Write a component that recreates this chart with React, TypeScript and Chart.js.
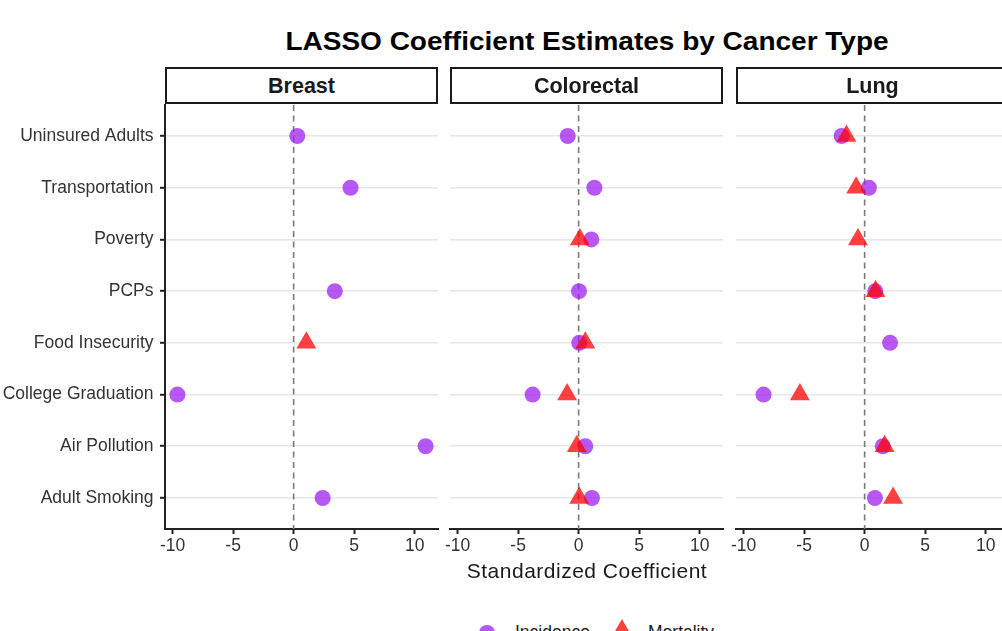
import React, { useEffect, useRef } from 'react';
import { Chart, registerables } from 'chart.js';

Chart.register(...registerables);

const categories = [
  'Uninsured Adults',
  'Transportation',
  'Poverty',
  'PCPs',
  'Food Insecurity',
  'College Graduation',
  'Air Pollution',
  'Adult Smoking',
];
const panelNames = ['Breast', 'Colorectal', 'Lung'];
const xTickValues = [-10, -5, 0, 5, 10];

// null = coefficient shrunk to zero (not shown)
const breastIncidence = [0.3, 4.7, null, 3.4, null, -9.6, 10.9, 2.4];
const breastMortality = [null, null, null, null, 1.05, null, null, null];
const colorectalIncidence = [-0.9, 1.3, 1.05, 0.03, 0.05, -3.8, 0.55, 1.1];
const colorectalMortality = [null, null, 0.1, null, 0.55, -0.95, -0.15, 0.05];
const lungIncidence = [-1.9, 0.35, null, 0.88, 2.1, -8.35, 1.5, 0.85];
const lungMortality = [-1.5, -0.7, -0.55, 0.9, null, -5.35, 1.65, 2.35];

const incidenceByPanel = [breastIncidence, colorectalIncidence, lungIncidence];
const mortalityByPanel = [breastMortality, colorectalMortality, lungMortality];

const FONT = '"Liberation Sans", Arial, Helvetica, sans-serif';
const PURPLE = 'rgba(160,32,240,0.75)';
const RED = 'rgba(255,0,0,0.75)';

const allValues = [...incidenceByPanel, ...mortalityByPanel]
  .flat()
  .filter((v) => v !== null) as number[];
const dataMin = Math.min(...allValues);
const dataMax = Math.max(...allValues);
const xPad = 0.05 * (dataMax - dataMin);

const toPoints = (vals: (number | null)[]) =>
  vals
    .map((v, i) => (v === null ? null : { x: v, y: i + 1 }))
    .filter((p) => p !== null);

// panel geometry (plot areas)
const PANEL_LEFT = [165, 450, 736];
const PANEL_W = 273;
const PLOT_TOP = 105;
const PLOT_H = 424;
const X_AXIS_H = 50;
const PAD = 24;

const zeroLinePlugin = {
  id: 'zeroLine',
  beforeDatasetsDraw(chart: any) {
    const { ctx, chartArea, scales } = chart;
    const x = scales.x.getPixelForValue(0);
    ctx.save();
    ctx.strokeStyle = '#7a7a7a';
    ctx.lineWidth = 1.6;
    ctx.setLineDash([6, 4.5]);
    ctx.beginPath();
    ctx.moveTo(x, chartArea.top);
    ctx.lineTo(x, chartArea.bottom);
    ctx.stroke();
    ctx.restore();
  },
};

function Panel({ index }: { index: number }) {
  const ref = useRef<HTMLCanvasElement | null>(null);
  const first = index === 0;
  const canvasLeft = first ? 0 : PANEL_LEFT[index] - PAD;
  const canvasWidth = first ? PANEL_LEFT[0] + PANEL_W + PAD : PANEL_W + 2 * PAD;
  const canvasTop = PLOT_TOP - PAD;
  const canvasHeight = PAD + PLOT_H + X_AXIS_H;

  useEffect(() => {
    if (!ref.current) return;
    const chart = new Chart(ref.current, {
      type: 'scatter',
      data: {
        datasets: [
          {
            label: 'Mortality',
            data: toPoints(mortalityByPanel[index]) as any,
            pointStyle: 'triangle',
            pointRadius: 11.5,
            pointHoverRadius: 11.5,
            backgroundColor: RED,
            borderWidth: 0,
            order: 1,
          },
          {
            label: 'Incidence',
            data: toPoints(incidenceByPanel[index]) as any,
            pointStyle: 'circle',
            pointRadius: 8,
            pointHoverRadius: 8,
            backgroundColor: PURPLE,
            borderWidth: 0,
            order: 2,
          },
        ],
      },
      options: {
        animation: false,
        responsive: false,
        maintainAspectRatio: false,
        devicePixelRatio: 1,
        events: [],
        layout: {
          padding: {
            top: PAD,
            left: first ? 0 : PAD,
            right: PAD,
            bottom: 0,
          },
        },
        plugins: {
          legend: { display: false },
          tooltip: { enabled: false },
          title: { display: false },
        },
        scales: {
          x: {
            type: 'linear',
            min: dataMin - xPad,
            max: dataMax + xPad,
            afterBuildTicks: (s: any) => {
              s.ticks = xTickValues.map((v) => ({ value: v }));
            },
            afterFit: (s: any) => {
              s.height = X_AXIS_H;
            },
            ticks: {
              autoSkip: false,
              maxRotation: 0,
              padding: 2,
              color: '#333333',
              font: { family: FONT, size: 17.5 },
            },
            grid: {
              drawOnChartArea: false,
              drawTicks: true,
              tickLength: 5,
              tickColor: '#222222',
              tickWidth: 2,
            },
            border: { display: true, color: '#222222', width: 2 },
          },
          y: {
            type: 'linear',
            min: 0.4,
            max: 8.6,
            reverse: true,
            afterBuildTicks: (s: any) => {
              s.ticks = categories.map((_, i) => ({ value: i + 1 }));
            },
            afterFit: (s: any) => {
              s.width = first ? PANEL_LEFT[0] : 0;
            },
            ticks: {
              display: first,
              autoSkip: false,
              padding: 6.5,
              color: '#333333',
              font: { family: FONT, size: 17.5 },
              callback: (v: any) => categories[Math.round(v) - 1],
            },
            grid: {
              color: '#e6e6e6',
              lineWidth: 1.6,
              drawTicks: first,
              tickLength: 5,
              tickColor: '#222222',
              tickWidth: 2,
            },
            border: { display: first, color: '#222222', width: 2 },
          },
        },
      },
      plugins: [zeroLinePlugin],
    });
    return () => chart.destroy();
  }, [index]);

  return (
    <canvas
      ref={ref}
      width={canvasWidth}
      height={canvasHeight}
      style={{
        position: 'absolute',
        left: canvasLeft,
        top: canvasTop,
        width: canvasWidth,
        height: canvasHeight,
      }}
    />
  );
}

export default function App() {
  const triR = 11.5;
  const triW = triR * Math.sqrt(3);
  const triH = triR * 1.5;
  return (
    <div
      style={{
        position: 'fixed',
        left: 0,
        top: 0,
        width: 1002,
        height: 631,
        overflow: 'hidden',
        background: '#ffffff',
        fontFamily: FONT,
      }}
    >
      <div
        style={{
          position: 'absolute',
          left: 587,
          top: 29,
          fontSize: 25,
          lineHeight: '25px',
          fontWeight: 'bold',
          whiteSpace: 'nowrap',
          color: '#000',
          transform: 'translateX(-50%) scaleX(1.12)',
        }}
      >
        LASSO Coefficient Estimates by Cancer Type
      </div>

      {panelNames.map((name, i) => (
        <Panel key={name} index={i} />
      ))}

      {panelNames.map((name, i) => (
        <div
          key={name}
          style={{
            position: 'absolute',
            left: PANEL_LEFT[i],
            top: 67,
            width: PANEL_W,
            height: 37,
            boxSizing: 'border-box',
            border: '2px solid #1a1a1a',
            display: 'flex',
            alignItems: 'center',
            justifyContent: 'center',
            paddingTop: 2,
            fontSize: 21.5,
            fontWeight: 'bold',
            color: '#1a1a1a',
            background: '#fff',
          }}
        >
          {name}
        </div>
      ))}

      <div
        style={{
          position: 'absolute',
          left: 587,
          top: 560,
          fontSize: 21,
          lineHeight: '21px',
          letterSpacing: 0.5,
          whiteSpace: 'nowrap',
          color: '#1a1a1a',
          transform: 'translateX(-50%)',
        }}
      >
        Standardized Coefficient
      </div>

      <div
        style={{
          position: 'absolute',
          left: 479,
          top: 625,
          width: 16,
          height: 16,
          borderRadius: '50%',
          background: PURPLE,
        }}
      />
      <div
        style={{
          position: 'absolute',
          left: 515,
          top: 624,
          fontSize: 17.5,
          lineHeight: '17.5px',
          whiteSpace: 'nowrap',
          color: '#1a1a1a',
        }}
      >
        Incidence
      </div>
      <svg
        width={triW}
        height={triH}
        style={{ position: 'absolute', left: 622 - triW / 2, top: 619 }}
      >
        <polygon
          points={`${triW / 2},0 ${triW},${triH} 0,${triH}`}
          fill={RED}
        />
      </svg>
      <div
        style={{
          position: 'absolute',
          left: 648,
          top: 624,
          fontSize: 17.5,
          lineHeight: '17.5px',
          whiteSpace: 'nowrap',
          color: '#1a1a1a',
        }}
      >
        Mortality
      </div>
    </div>
  );
}
